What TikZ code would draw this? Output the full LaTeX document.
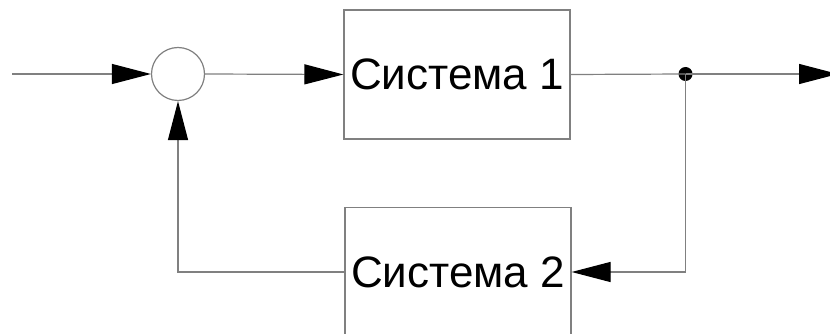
\documentclass[tikz,border=0pt]{standalone}
\usepackage{fontspec}
\setmainfont{Liberation Sans}
\usetikzlibrary{arrows.meta}
\definecolor{linegray}{HTML}{808080}
\tikzset{
  wire/.style={draw=linegray, line width=1.2pt},
  tip/.style={-{Triangle[length=39pt,width=20pt,color=black]}},
  sysbox/.style={draw=linegray, line width=1.2pt, minimum width=226pt, minimum height=129pt,
    inner sep=0pt, font=\fontsize{44}{48}\selectfont},
  summer/.style={circle, draw=linegray, line width=1.2pt, minimum size=53pt, inner sep=0pt},
  junction/.style={circle, fill=black, minimum size=14pt, inner sep=0pt}
}
\begin{document}
\begin{tikzpicture}[x=1pt, y=-1pt]
\useasboundingbox (0,0) rectangle (830,334);
\clip (0,0) rectangle (830,334);
\fill[white] (0,0) rectangle (830,334);
\node[summer] (sum) at (178,74) {};
\node[sysbox] (s1) at (457,74.5) {Система 1};
\node[sysbox] (s2) at (458,272) {Система 2};
\node[junction] (dot) at (685.5,74) {};
\coordinate (in) at (12,74);
\coordinate (out) at (838,74);
\coordinate (fbr) at (685.5,272);
\coordinate (fbl) at (178,272);
\draw[wire, tip] (in) -- (sum.west);
\draw[wire, tip] (sum.east) -- (s1.west);
\draw[wire] (s1.east) -- (dot.center);
\draw[wire, tip] (dot.center) -- (out);
\draw[wire, tip] (dot.center) -- (fbr) -- (s2.east);
\draw[wire, tip] (s2.west) -- (fbl) -- (sum.south);
\end{tikzpicture}
\end{document}
